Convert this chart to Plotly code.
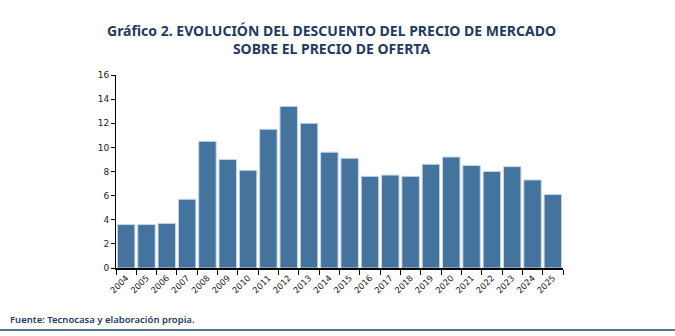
import plotly.graph_objects as go

years = [str(y) for y in range(2004, 2026)]
descuento = [3.6, 3.6, 3.7, 5.7, 10.5, 9.0, 8.1, 11.5, 13.4, 12.0, 9.6, 9.1,
             7.6, 7.7, 7.6, 8.6, 9.2, 8.5, 8.0, 8.4, 7.3, 6.1]
y_ticks = [0, 2, 4, 6, 8, 10, 12, 14, 16]

fig = go.Figure(go.Bar(
    x=years, y=descuento,
    marker=dict(color="#44739e", line=dict(color="#c9d6e6", width=1)),
))

fig.update_layout(
    width=675, height=336,
    margin=dict(l=116, r=112, t=75, b=68),
    paper_bgcolor="white", plot_bgcolor="white",
    bargap=0.14,
    showlegend=False,
    font=dict(family="Noto Sans", color="#222222"),
)
fig.update_xaxes(
    type="category", showline=True, linecolor="black", linewidth=1.5,
    ticks="outside", tickson="boundaries", ticklen=5, tickcolor="black",
    tickangle=-45, tickfont=dict(size=8.5, family="DejaVu Sans", color="#222222"),
    showgrid=False,
)
fig.update_yaxes(
    range=[0, 16], tickvals=y_ticks, showline=True, linecolor="black", linewidth=1,
    ticks="outside", ticklen=4, tickcolor="black",
    tickfont=dict(size=9, family="DejaVu Sans", color="#222222"),
    showgrid=False, zeroline=False,
)

fig.add_annotation(
    text="<b>Gráfico 2. EVOLUCIÓN DEL DESCUENTO DEL PRECIO DE MERCADO<br>SOBRE EL PRECIO DE OFERTA</b>",
    xref="paper", yref="paper", x=0.5, y=1.0, xanchor="center", yanchor="bottom",
    xshift=-8, yshift=15, showarrow=False, align="center",
    font=dict(size=14, family="Noto Sans", color="#1f3a5f"),
)
fig.add_annotation(
    text="Fuente: Tecnocasa y elaboración propia.",
    xref="paper", yref="paper", x=-108/447, y=-(319-268)/193,
    xanchor="left", yanchor="middle", showarrow=False,
    font=dict(size=9.5, family="Noto Sans", color="#1f3a5f", weight=600),
)
fig.add_shape(
    type="line", xref="paper", yref="paper",
    x0=-116/447, x1=(675-116)/447, y0=-(330-268)/193, y1=-(330-268)/193,
    line=dict(color="#1f4766", width=1.5),
)

fig.write_html("out.html")
